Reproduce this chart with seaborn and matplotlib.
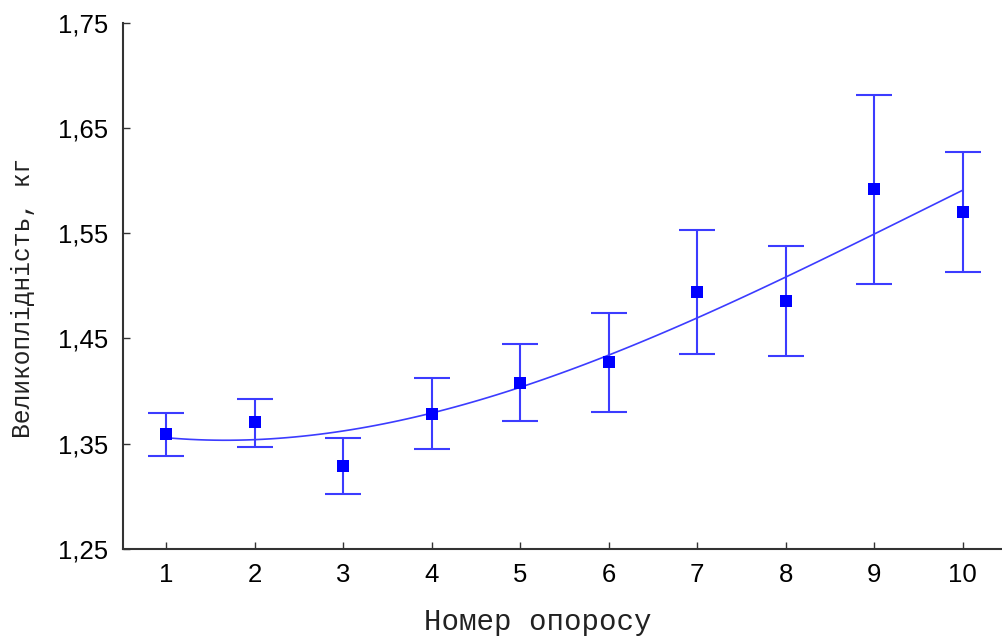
import numpy as np
import pandas as pd
import matplotlib
matplotlib.use("Agg")
import matplotlib.pyplot as plt
import seaborn as sns

# Data
farrowing = [1, 2, 3, 4, 5, 6, 7, 8, 9, 10]
mean_weight = [1.3595, 1.371, 1.329, 1.3785, 1.408, 1.428, 1.4945, 1.486, 1.592, 1.5705]
upper = [1.3795, 1.392, 1.355, 1.412, 1.445, 1.4745, 1.553, 1.538, 1.681, 1.627]
lower = [1.3386, 1.347, 1.302, 1.345, 1.372, 1.380, 1.4355, 1.4335, 1.502, 1.5135]
trend = [1.355, 1.355, 1.3624, 1.3782, 1.403, 1.4353, 1.4685, 1.5087, 1.550, 1.5905]
y_ticks = [1.25, 1.35, 1.45, 1.55, 1.65, 1.75]
y_tick_labels = ["1,25", "1,35", "1,45", "1,55", "1,65", "1,75"]
x_label = "Номер опоросу"
y_label = "Великоплідність, кг"

df = pd.DataFrame({"x": farrowing, "y": mean_weight, "lo": lower, "hi": upper, "trend": trend})

sns.set_style("white")
plt.rcParams["font.family"] = ["Liberation Sans", "DejaVu Sans"]

fig = plt.figure(figsize=(10.02, 6.36), dpi=100)
ax = fig.add_axes([0.1228, 0.137, 0.876, 0.827])

blue = "#0000ff"
err_col = "#3c3cff"

# smooth trend line through the read trend values
sns.regplot(data=df, x="x", y="trend", order=3, ci=None, scatter=False, truncate=True,
            line_kws=dict(color=err_col, lw=1.2), ax=ax)

yerr = np.array([df["y"] - df["lo"], df["hi"] - df["y"]])
ax.errorbar(df["x"], df["y"], yerr=yerr, fmt="none", ecolor=err_col, elinewidth=1.5,
            capsize=13, capthick=1.5, zorder=3)
sns.scatterplot(data=df, x="x", y="y", marker="s", s=85, color=blue, edgecolor=blue,
                linewidth=0, ax=ax, zorder=4)

ax.set_xlim(0.514, 10.43)
ax.set_ylim(1.25, 1.75)
ax.set_xticks(farrowing)
ax.set_xticklabels([str(v) for v in farrowing], fontsize=18.5, color="black")
ax.set_yticks(y_ticks)
ax.set_yticklabels(y_tick_labels, fontsize=18.5, color="black")

for s in ["top", "right"]:
    ax.spines[s].set_visible(False)
for s in ["left", "bottom"]:
    ax.spines[s].set_color("#333333")
    ax.spines[s].set_linewidth(1.5)
ax.tick_params(axis="both", direction="in", length=5, width=1, color="#333333",
               pad=10.5, bottom=True, left=True)

ax.set_xlabel(x_label, fontsize=21, family=["Liberation Mono", "DejaVu Sans Mono"], color="#222222")
ax.set_ylabel(y_label, fontsize=17.7, family=["Liberation Mono", "DejaVu Sans Mono"], color="#222222")
ax.xaxis.set_label_coords(0.472, -0.112)
ax.yaxis.set_label_coords(-0.100, 0.477)

fig.savefig("out.png", dpi=100)
